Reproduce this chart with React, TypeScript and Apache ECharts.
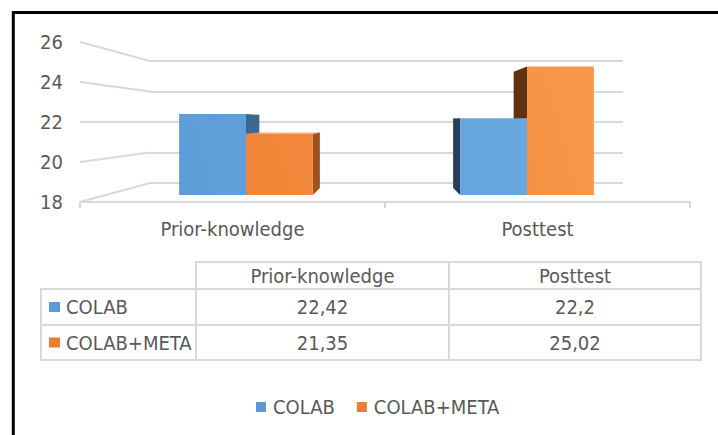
import React, { useEffect, useRef } from "react";
import * as echarts from "echarts";

// ---- data ----
const categories = ["Prior-knowledge", "Posttest"];
const seriesNames = ["COLAB", "COLAB+META"];
const colabValues = [22.42, 22.2];
const colabMetaValues = [21.35, 25.02];
const yTicks = [18, 20, 22, 24, 26];
const Y_MIN = 18;
const Y_MAX = 26;
const Y_STEP = 2;
const HORIZON = 22; // eye level of the 3D view

// ---- layout / style ----
const W = 718;
const H = 435;
const FONT = "'DejaVu Sans Condensed', 'Liberation Sans Narrow', sans-serif";
const FS = 20;
const TEXT = "#595959";
const LINE = "#d9d9d9";

const FRONT = { left: 80, top: 42, width: 610, height: 160 };
const BACK = { left: 150, top: 61, width: 473, height: 122 };
const BARS = { left: 105.5, top: 48.6, width: 562, height: 146.4 };
const DEPTH = 0.905;
const BAR_FRAC = 0.238;

const TABLE = { left: 41, cols: [196, 449, 701], rows: [262, 289, 325, 360] };

const palette = [
  { base: "#5b9bd5", light: "#6cabe4", right: "#3a6891", left: "#243f57", top: "#82b7e8" },
  { base: "#ed7d31", light: "#fb9b4d", right: "#a1521c", left: "#5f3113", top: "#f8a86e" },
];
const valueLists = [colabValues, colabMetaValues];

const fmt = (v: number) => String(v).replace(".", ",");

function makeRender(si: number) {
  const pal = palette[si];
  return (params: any, api: any) => {
    const cat = api.value(0);
    const val = api.value(1);
    const c0 = api.coord([0, Y_MIN]);
    const c1 = api.coord([1, Y_MIN]);
    const vpx = (c0[0] + c1[0]) / 2;
    const vpy = api.coord([0, HORIZON])[1];
    const base = api.coord([cat, Y_MIN]);
    const top = api.coord([cat, val]);
    const bw = api.size([1, 0])[0] * BAR_FRAC;
    const x0 = base[0] + (si === 0 ? -bw : 0);
    const x1 = x0 + bw;
    const yT = top[1];
    const yB = base[1];
    const back = (x: number, y: number) => [vpx + DEPTH * (x - vpx), vpy + DEPTH * (y - vpy)];
    const children: any[] = [];
    if (x1 < vpx) {
      children.push({
        type: "polygon",
        z2: 1,
        shape: { points: [[x1, yT], back(x1, yT), back(x1, yB), [x1, yB]] },
        style: { fill: pal.right },
      });
    }
    if (x0 > vpx) {
      children.push({
        type: "polygon",
        z2: 1,
        shape: { points: [[x0, yT], back(x0, yT), back(x0, yB), [x0, yB]] },
        style: { fill: pal.left },
      });
    }
    if (yT > vpy) {
      children.push({
        type: "polygon",
        z2: 2,
        shape: { points: [[x0, yT], [x1, yT], back(x1, yT), back(x0, yT)] },
        style: { fill: pal.top },
      });
    }
    children.push({
      type: "rect",
      z2: 10,
      shape: { x: x0, y: yT, width: bw, height: yB - yT },
      style: {
        fill: {
          type: "linear",
          x: BARS.left,
          y: BARS.top + BARS.height,
          x2: BARS.left + BARS.width,
          y2: BARS.top,
          global: true,
          colorStops: [
            { offset: 0, color: pal.base },
            { offset: 1, color: pal.light },
          ],
        },
      },
    });
    return { type: "group", children };
  };
}

function buildOption(): any {
  return {
    animation: false,
    backgroundColor: "#ffffff",
    textStyle: { fontFamily: FONT },
    grid: [
      { left: FRONT.left, top: FRONT.top, width: FRONT.width, height: FRONT.height },
      { left: BACK.left, top: BACK.top, width: BACK.width, height: BACK.height },
      { left: BARS.left, top: BARS.top, width: BARS.width, height: BARS.height },
    ],
    xAxis: [
      {
        gridIndex: 0,
        type: "category",
        data: categories,
        boundaryGap: true,
        axisLine: { show: true, lineStyle: { color: LINE, width: 2 } },
        axisTick: { show: true, interval: 0, length: 6, lineStyle: { color: LINE, width: 2 } },
        axisLabel: { color: TEXT, fontSize: FS, fontFamily: FONT, margin: 17 },
        splitLine: { show: false },
      },
      { gridIndex: 1, type: "category", data: categories, show: false },
      { gridIndex: 2, type: "category", data: categories, show: false },
    ],
    yAxis: [
      {
        gridIndex: 0,
        type: "value",
        min: Y_MIN,
        max: Y_MAX,
        interval: Y_STEP,
        axisLine: { show: false },
        axisTick: { show: false },
        splitLine: { show: false },
        axisLabel: { color: TEXT, fontSize: FS, fontFamily: FONT, margin: 17, padding: [3, 0, 0, 0] },
      },
      {
        gridIndex: 1,
        type: "value",
        min: Y_MIN,
        max: Y_MAX,
        interval: Y_STEP,
        axisLine: { show: false },
        axisTick: { show: false },
        axisLabel: { show: false },
        splitLine: { show: true, lineStyle: { color: LINE, width: 2 } },
      },
      {
        gridIndex: 2,
        type: "value",
        min: Y_MIN,
        max: Y_MAX,
        interval: Y_STEP,
        show: false,
        splitLine: { show: false },
      },
    ],
    legend: {
      data: seriesNames,
      left: 256,
      top: 397,
      padding: 0,
      icon: "rect",
      itemWidth: 10,
      itemHeight: 10,
      itemGap: 22,
      textStyle: { color: TEXT, fontSize: FS, fontFamily: FONT, padding: [0, 0, 0, 2] },
    },
    series: seriesNames.map((name, si) => ({
      name,
      type: "custom",
      xAxisIndex: 2,
      yAxisIndex: 2,
      itemStyle: { color: palette[si].base },
      encode: { x: 0, y: 1 },
      data: valueLists[si].map((v, ci) => [ci, v]),
      renderItem: makeRender(si),
    })),
  };
}

function tableGraphics(): any[] {
  const g: any[] = [];
  const [c1, c2, cR] = TABLE.cols;
  const [r0, r1, r2, r3] = TABLE.rows;
  const cellStyle = { fill: "none", stroke: LINE, lineWidth: 2 };
  const colEdges = [c1, c2, cR];
  for (let i = 0; i < 2; i++) {
    g.push({
      type: "rect",
      shape: { x: colEdges[i], y: r0, width: colEdges[i + 1] - colEdges[i], height: r1 - r0 },
      style: cellStyle,
      silent: true,
    });
    g.push({
      type: "text",
      x: (colEdges[i] + colEdges[i + 1]) / 2,
      y: (r0 + r1) / 2,
      style: {
        text: categories[i],
        fill: TEXT,
        font: `${FS}px ${FONT}`,
        align: "center",
        verticalAlign: "middle",
      },
      silent: true,
    });
  }
  const rowEdges = [r1, r2, r3];
  const allCols = [TABLE.left, c1, c2, cR];
  for (let r = 0; r < 2; r++) {
    const yTop = rowEdges[r];
    const yBot = rowEdges[r + 1];
    const yMid = (yTop + yBot) / 2;
    for (let c = 0; c < 3; c++) {
      g.push({
        type: "rect",
        shape: { x: allCols[c], y: yTop, width: allCols[c + 1] - allCols[c], height: yBot - yTop },
        style: cellStyle,
        silent: true,
      });
    }
    g.push({
      type: "rect",
      shape: { x: TABLE.left + 8, y: yMid - 5, width: 11, height: 10 },
      style: { fill: palette[r].base },
      silent: true,
    });
    g.push({
      type: "text",
      x: TABLE.left + 25,
      y: yMid,
      style: { text: seriesNames[r], fill: TEXT, font: `${FS}px ${FONT}`, align: "left", verticalAlign: "middle" },
      silent: true,
    });
    for (let c = 0; c < 2; c++) {
      g.push({
        type: "text",
        x: (allCols[c + 1] + allCols[c + 2]) / 2,
        y: yMid,
        style: {
          text: fmt(valueLists[r][c]),
          fill: TEXT,
          font: `${FS}px ${FONT}`,
          align: "center",
          verticalAlign: "middle",
        },
        silent: true,
      });
    }
  }
  return g;
}

export default function App() {
  const ref = useRef<HTMLDivElement>(null);
  useEffect(() => {
    if (!ref.current) return;
    const chart = echarts.init(ref.current, null, { renderer: "svg" });
    chart.setOption(buildOption());
    const connectors = yTicks.map((v) => {
      const yf = chart.convertToPixel({ yAxisIndex: 0 } as any, v) as unknown as number;
      const yb = chart.convertToPixel({ yAxisIndex: 1 } as any, v) as unknown as number;
      return {
        type: "line",
        silent: true,
        shape: { x1: FRONT.left, y1: yf, x2: BACK.left, y2: yb },
        style: { stroke: LINE, lineWidth: 2 },
      };
    });
    const border = {
      type: "rect",
      silent: true,
      z: 100,
      shape: { x: 13.3, y: 12.5, width: 900, height: 600 },
      style: { fill: "none", stroke: "#000", lineWidth: 3 },
    };
    chart.setOption({ graphic: [border, ...connectors, ...tableGraphics()] });
    return () => chart.dispose();
  }, []);
  return (
    <div style={{ position: "fixed", left: 0, top: 0, width: W, height: H, background: "#fff" }}>
      <div ref={ref} style={{ width: W, height: H }} />
    </div>
  );
}
